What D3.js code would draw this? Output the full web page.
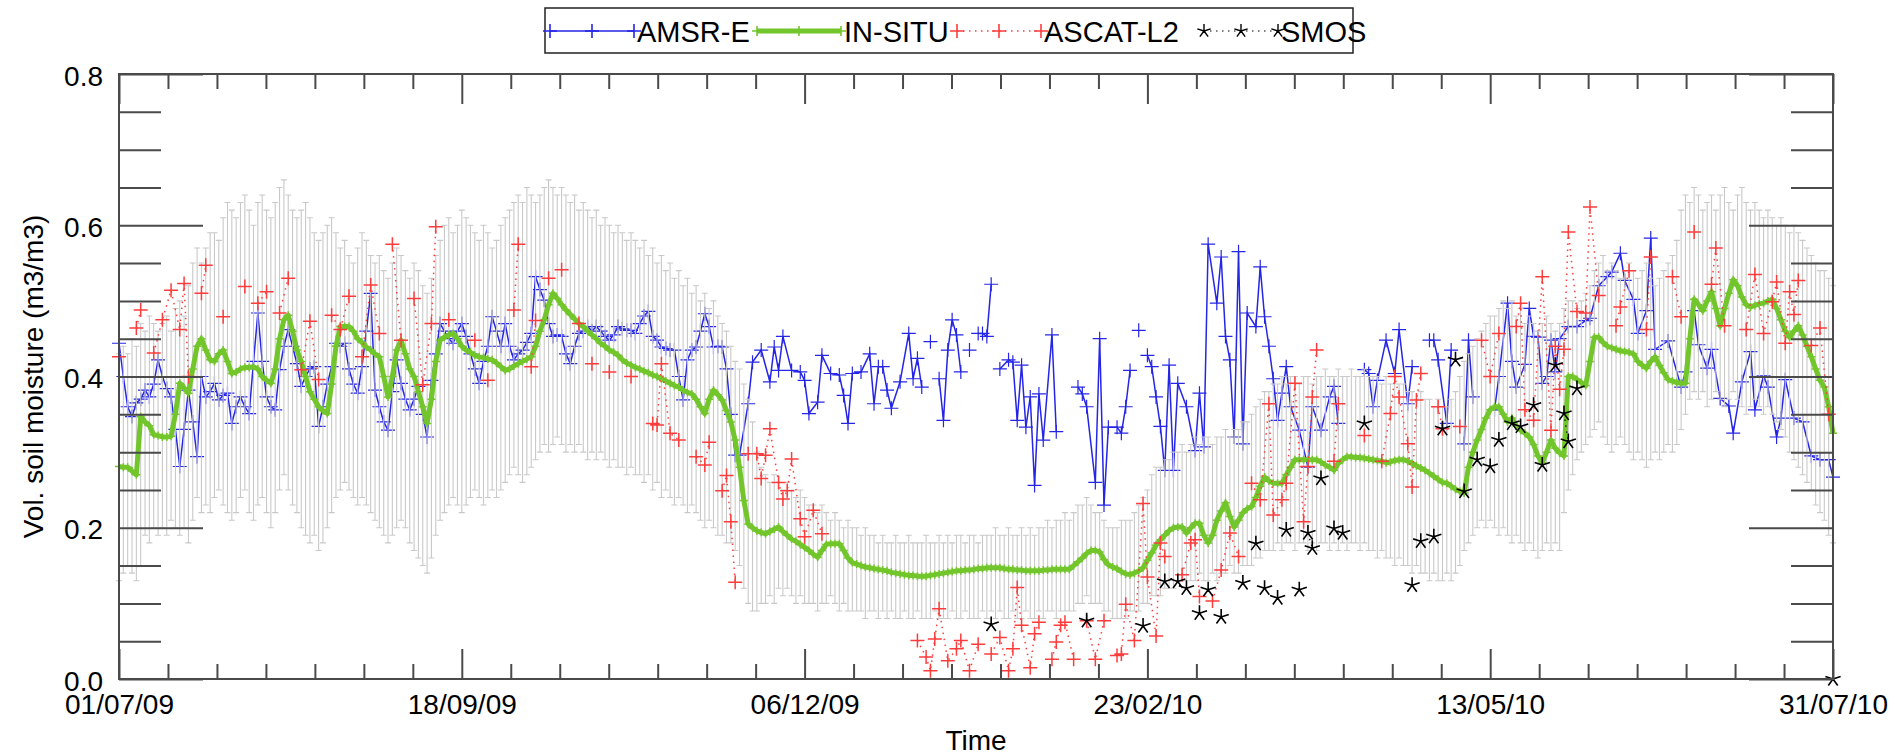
<!DOCTYPE html>
<html><head><meta charset="utf-8">
<script src="https://cdn.jsdelivr.net/npm/d3@7"></script>
<style>
body{margin:0;background:#fff}
svg{display:block}
text{font-family:"Liberation Sans",Arial,Helvetica,sans-serif;fill:#000}
</style>
</head><body>
<svg id="c" width="1895" height="755"></svg>
<script>
// ---------------- DATA ----------------
// day index 0 = 01/07/2009
const xTickDays   = [0, 79, 158, 237, 316, 395];
const xTickLabels = ["01/07/09","18/09/09","06/12/09","23/02/10","13/05/10","31/07/10"];
const yTickValues = [0, 0.2, 0.4, 0.6, 0.8];
const yTickLabels = ["0.0","0.2","0.4","0.6","0.8"];
const seriesNames = ["AMSR-E","IN-SITU","ASCAT-L2","SMOS"];
const xTitle = "Time";
const yTitle = "Vol. soil moisture (m3/m3)";

// in-situ daily mean (d0..d395)
const insitu = [
.281,.28,.28,.275,.27,.347,.34,.335,.323,.322,
.32,.32,.321,.35,.391,.385,.378,.41,.44,.45,
.435,.422,.42,.43,.435,.42,.404,.406,.41,.412,
.412,.413,.41,.40,.395,.391,.41,.45,.475,.481,
.46,.435,.42,.40,.38,.37,.36,.355,.351,.39,
.44,.466,.466,.466,.46,.45,.445,.439,.435,.43,
.426,.40,.373,.40,.435,.448,.43,.41,.40,.38,
.36,.338,.37,.42,.448,.452,.455,.457,.45,.44,
.435,.432,.428,.426,.425,.423,.422,.418,.413,.408,
.41,.414,.417,.42,.423,.426,.44,.46,.475,.495,
.51,.503,.495,.488,.482,.476,.47,.466,.46,.455,
.45,.444,.44,.435,.432,.428,.422,.418,.415,.412,
.41,.407,.405,.402,.40,.397,.394,.391,.388,.386,
.382,.379,.377,.37,.36,.351,.37,.382,.376,.369,
.355,.34,.316,.28,.236,.205,.20,.196,.194,.192,
.195,.198,.201,.195,.19,.185,.182,.178,.174,.17,
.165,.161,.17,.178,.179,.179,.179,.17,.16,.154,
.152,.15,.148,.147,.146,.145,.144,.143,.141,.14,
.139,.138,.137,.137,.136,.136,.136,.137,.138,.139,
.14,.141,.142,.143,.143,.144,.144,.145,.146,.146,
.147,.147,.147,.147,.146,.145,.145,.144,.144,.143,
.143,.143,.143,.144,.144,.145,.145,.145,.145,.145,
.15,.155,.16,.166,.17,.17,.168,.158,.151,.148,
.146,.142,.139,.138,.14,.143,.147,.157,.167,.177,
.184,.19,.196,.2,.201,.201,.193,.2,.206,.206,
.19,.18,.19,.21,.222,.233,.215,.201,.21,.22,
.225,.228,.24,.255,.267,.262,.259,.259,.259,.27,
.28,.29,.29,.29,.29,.29,.29,.287,.283,.28,
.276,.285,.29,.294,.294,.293,.293,.292,.291,.29,
.289,.288,.286,.287,.289,.29,.29,.288,.285,.282,
.279,.276,.272,.268,.264,.26,.259,.255,.251,.248,
.246,.28,.30,.316,.33,.345,.356,.36,.36,.35,
.34,.345,.335,.329,.325,.32,.31,.295,.286,.30,
.316,.305,.299,.295,.40,.40,.396,.392,.388,.42,
.452,.452,.445,.44,.438,.436,.434,.433,.432,.43,
.42,.415,.411,.42,.426,.415,.405,.396,.394,.392,
.391,.391,.45,.502,.495,.487,.50,.512,.49,.467,
.49,.51,.528,.52,.505,.495,.492,.494,.496,.497,
.50,.502,.49,.475,.46,.452,.46,.467,.455,.44,
.426,.41,.395,.386,.36,.325];

// in-situ spread: upper and lower ends of the grey error bars (d0..d395)
const barHigh = [
.43,.44,.43,.45,.44,.47,.46,.48,.47,.46,
.47,.48,.46,.49,.50,.48,.52,.55,.57,.55,
.57,.59,.59,.58,.61,.63,.62,.61,.63,.64,
.62,.60,.63,.64,.62,.61,.63,.65,.66,.64,
.62,.61,.62,.63,.61,.59,.58,.59,.60,.61,
.59,.57,.58,.56,.55,.57,.59,.58,.56,.55,
.56,.54,.53,.55,.57,.56,.54,.53,.55,.54,
.52,.51,.53,.56,.58,.60,.61,.59,.60,.62,
.61,.60,.59,.58,.60,.59,.57,.58,.60,.61,
.62,.63,.64,.63,.65,.64,.63,.64,.65,.66,
.65,.64,.65,.64,.63,.64,.62,.63,.62,.61,
.62,.60,.61,.60,.59,.60,.59,.58,.59,.58,
.57,.58,.56,.57,.55,.56,.54,.55,.53,.54,
.52,.53,.51,.52,.50,.51,.49,.50,.48,.47,
.46,.44,.42,.41,.39,.37,.34,.30,.28,.27,
.26,.27,.26,.25,.26,.25,.24,.25,.24,.23,
.23,.22,.23,.22,.21,.22,.21,.20,.21,.20,
.20,.19,.20,.19,.19,.18,.19,.18,.18,.19,
.18,.18,.19,.18,.18,.18,.19,.18,.18,.19,
.18,.19,.18,.19,.19,.18,.19,.19,.18,.19,
.19,.19,.20,.19,.19,.20,.19,.19,.20,.19,
.20,.19,.20,.20,.21,.20,.21,.21,.22,.21,
.22,.23,.23,.24,.23,.22,.22,.21,.20,.20,
.20,.21,.21,.21,.22,.23,.24,.25,.27,.28,
.28,.29,.29,.30,.30,.31,.30,.31,.32,.31,
.32,.32,.31,.32,.32,.33,.32,.33,.33,.34,
.34,.35,.36,.37,.38,.38,.39,.39,.40,.39,
.40,.40,.39,.40,.40,.39,.40,.40,.41,.40,
.40,.41,.40,.40,.41,.40,.40,.41,.40,.40,
.40,.39,.40,.39,.40,.39,.39,.38,.38,.37,
.38,.37,.37,.36,.37,.36,.36,.37,.38,.40,
.42,.43,.44,.45,.46,.47,.48,.48,.49,.50,
.49,.50,.48,.49,.47,.48,.47,.46,.47,.48,
.47,.46,.47,.49,.50,.50,.49,.50,.51,.52,
.54,.55,.56,.54,.55,.54,.53,.54,.55,.54,
.53,.54,.55,.53,.52,.53,.54,.55,.56,.58,
.62,.64,.63,.65,.64,.62,.63,.64,.62,.64,
.65,.63,.62,.64,.65,.63,.62,.63,.62,.61,
.62,.61,.60,.61,.60,.59,.60,.59,.58,.57,
.56,.55,.54,.54,.53,.52];
const barLow = [
.13,.14,.15,.14,.13,.15,.19,.18,.20,.19,
.20,.19,.21,.20,.19,.20,.18,.21,.24,.22,
.23,.22,.24,.25,.23,.22,.21,.22,.24,.25,
.22,.21,.23,.24,.22,.20,.22,.25,.27,.25,
.23,.22,.20,.19,.18,.19,.17,.18,.20,.22,
.24,.25,.26,.25,.24,.23,.24,.23,.22,.21,
.20,.19,.18,.19,.20,.21,.20,.18,.17,.16,
.15,.14,.16,.19,.21,.22,.23,.24,.23,.22,
.23,.24,.25,.24,.23,.24,.25,.24,.25,.26,
.27,.28,.27,.26,.27,.28,.29,.30,.31,.30,
.31,.32,.31,.30,.31,.30,.31,.30,.29,.30,
.29,.30,.29,.28,.29,.28,.28,.27,.28,.27,
.27,.26,.27,.25,.26,.24,.25,.24,.23,.24,
.23,.22,.23,.22,.21,.20,.21,.20,.19,.19,
.18,.18,.17,.15,.12,.10,.09,.09,.10,.10,
.11,.10,.12,.11,.12,.11,.10,.11,.10,.10,
.10,.09,.10,.10,.11,.10,.09,.10,.09,.09,
.09,.09,.08,.09,.09,.08,.09,.08,.09,.08,
.08,.09,.08,.08,.09,.08,.08,.08,.09,.08,
.08,.08,.09,.08,.08,.09,.08,.08,.08,.09,
.08,.09,.08,.09,.08,.08,.09,.08,.08,.09,
.08,.08,.09,.08,.09,.09,.08,.09,.09,.09,
.09,.10,.10,.11,.10,.10,.10,.09,.09,.08,
.08,.08,.08,.09,.09,.09,.10,.10,.11,.11,
.11,.12,.12,.12,.13,.13,.12,.13,.13,.14,
.13,.13,.14,.13,.14,.14,.15,.14,.14,.15,
.15,.15,.16,.16,.17,.17,.17,.18,.17,.18,
.18,.17,.18,.18,.17,.18,.17,.18,.18,.17,
.18,.17,.18,.17,.18,.18,.17,.18,.17,.17,
.16,.17,.16,.16,.15,.16,.15,.15,.14,.15,
.14,.14,.13,.14,.13,.13,.14,.13,.14,.15,
.17,.18,.19,.20,.21,.20,.21,.20,.19,.20,
.19,.18,.19,.18,.17,.18,.17,.16,.17,.18,
.17,.18,.17,.22,.25,.27,.29,.30,.31,.32,
.33,.34,.32,.31,.30,.31,.32,.31,.30,.29,
.30,.29,.28,.29,.30,.29,.30,.31,.30,.31,
.33,.35,.37,.38,.37,.38,.36,.37,.38,.37,
.36,.37,.38,.37,.36,.35,.36,.37,.36,.35,
.36,.35,.34,.33,.32,.30,.29,.28,.27,.26,
.25,.23,.22,.21,.19,.18];

// AMSR-E retrievals [day, value]; null = explicit gap
const amsre = [
[0,.444],[1,.40],[2,.36],[3,.347],[4,.365],[5,.37],[6,.382],[7,.373],[8,.39],[9,.422],
[10,.40],[11,.384],[12,.373],[13,.33],[14,.281],[15,.33],[16,.382],[17,.34],[18,.294],[19,.40],
[20,.373],[21,.38],[22,.391],[23,.369],[24,.375],[25,.378],[26,.338],[27,.36],[28,.373],[29,.36],
[30,.351],[31,.42],[32,.484],[33,.42],[34,.373],[35,.36],[36,.356],[37,.409],[38,.44],[39,.462],
[40,.44],[41,.417],[42,.387],[43,.40],[44,.41],[45,.413],[46,.334],[47,.36],[48,.39],[49,.413],
[50,.444],[51,.44],[52,.444],[53,.41],[54,.39],[55,.378],[56,.413],[57,.46],[58,.51],[59,.382],
[60,.36],[61,.34],[62,.329],[63,.38],[64,.422],[65,.391],[66,.37],[67,.356],[68,.37],[69,.387],
[70,.35],[71,.32],[72,.395],[73,.43],[74,.47],[75,.46],[76,.45],[77,.444],[78,.46],[79,.47],
[80,.453],[81,.43],[82,.41],[83,.391],[84,.42],[85,.44],[86,.479],[87,.46],[88,.44],[89,.47],
[90,.44],[91,.422],[92,.43],[93,.435],[94,.445],[95,.457],[96,.532],[97,.515],[98,.501],[99,.47],
[100,.453],[101,.455],[102,.453],[103,.43],[104,.417],[105,.44],[106,.457],[107,.46],[108,.466],[109,.46],
[110,.466],[111,.46],[112,.453],[113,.448],[114,.455],[115,.466],[116,.463],[117,.461],[118,.461],[119,.457],
[120,.47],[121,.48],[122,.486],[123,.453],[124,.448],[125,.439],[126,.437],[127,.435],[128,.435],[129,.40],
[130,.369],[131,.422],[132,.435],[133,.439],[134,.46],[135,.483],[136,.466],[137,.439],[138,.44],[139,.439],
[140,.41],[141,.35],[142,.296],[143,.296],
[145,.364],[146,.419],[148,.435],[150,.393],[151,.439],[152,.408],[153,.453],[155,.408],[157,.406],[158,.395],
[159,.351],[161,.366],[162,.428],[164,.404],[166,.402],[167,.375],[168,.338],[169,.404],[171,.406],[173,.43],
[174,.364],[175,.413],[176,.413],[177,.382],[178,.358],[180,.393],[182,.457],[183,.397],[184,.424],[185,.386],
[186,null],[187,.446],[188,null],[189,.397],[190,.342],[191,.435],[192,.475],[193,.455],[194,.406],[195,null],
[196,.435],[197,null],[198,.457],[199,.457],[200,.453],[201,.522],[202,null],[203,.41],[205,.422],[206,.419],
[207,.342],[208,.415],[209,.333],[210,.373],[211,.256],[212,.377],[213,.316],[215,.455],[216,.327],[217,null],
[221,.386],[222,.377],[223,.36],[225,.26],[226,.45],[227,.23],[228,.333],[230,.333],[231,.325],[232,.36],
[233,.408],[234,null],[235,.461],[236,null],[237,.428],[238,.413],[239,.373],[240,.334],[241,.276],[242,.415],
[243,.276],[244,.391],[246,.36],[248,.302],[249,.378],[250,.307],[251,.575],[253,.497],[254,.558],[255,.453],
[256,.422],[257,.32],[258,.565],[259,.311],[260,.484],[262,.466],[263,.545],[264,.479],[265,.44],[266,.397],
[267,.342],[268,.378],[269,.413],[270,.36],[272,.329],[274,.28],[275,.36],[277,.329],[279,.373],[280,.387],
[281,.338],[287,.409],[288,.404],[289,.36],[290,.395],[292,.448],[294,.404],[295,.462],[297,.364],[298,.413],
[300,null],[302,.448],[303,.448],[304,.422],[306,.338],[307,.435],[309,null],[310,.311],[311,.448],[312,.373],
[313,null],[317,.356],[318,.40],[320,.497],[321,.42],[322,.386],[324,.416],[325,.49],[326,.453],[327,.452],
[328,.391],[329,.40],[330,.448],[331,.406],[332,.45],[334,.466],[336,.466],[338,.474],[339,.477],[341,.52],
[343,.532],[344,.538],[346,.563],[347,.527],[349,.502],[350,.457],[352,.487],[353,.583],[354,.436],[357,.447],
[360,.386],[361,.406],[363,.487],[364,.442],[366,.411],[367,.436],[369,.371],[371,.361],[372,.325],[374,.393],
[376,.433],[377,.356],[379,.401],[380,.386],[382,.32],[383,.345],[384,.396],[386,.345],[388,.34],[390,.295],
[392,.29],[394,.29],[395,.267]];

// ASCAT-L2 retrievals [day, value]
const ascat = [
[0,.426],[4,.464],[5,.488],[8,.431],[10,.475],[12,.514],[14,.462],[15,.523],[16,.40],[19,.51],
[20,.547],[24,.479],[29,.519],[32,.497],[34,.512],[37,.484],[39,.53],[42,.409],[44,.473],[46,.396],
[49,.481],[51,.462],[53,.506],[56,.426],[58,.521],[60,.457],[63,.575],[65,.448],[68,.503],[70,.389],
[72,.47],[73,.598],[76,.475],[82,.448],[85,.395],[91,.488],[92,.575],[95,.413],[96,.474],[99,.53],
[102,.541],[106,.47],[109,.417],[113,.406],[118,.40],[123,.338],[124,.336],[125,.417],[127,.325],[129,.316],
[133,.294],[135,.283],[136,.313],[139,.249],[140,.269],[141,.208],[142,.128],[145,.298],[147,.298],[148,.265],
[149,.296],[150,.331],[152,.26],[153,.238],[154,.249],[155,.291],[157,.212],[158,.188],[160,.223],[162,.192],
[184,.051],[186,.029],[187,.011],[188,.053],[189,.093],[191,.024],[193,.04],[194,.051],[196,.011],[198,.046],
[201,.033],[203,.055],[205,.011],[206,.04],[207,.121],[208,.071],[210,.015],[211,.06],[212,.075],[215,.026],
[216,.049],[217,.071],[218,.075],[220,.026],[223,.077],[225,.026],[227,.077],[230,.031],[231,.033],[232,.099],
[234,.051],[236,.232],[237,.135],[239,.057],[240,.18],[241,.162],[245,.138],[247,.18],[248,.184],[249,.109],
[252,.103],[254,.144],[256,.193],[258,.162],[261,.259],[263,.237],[265,.364],[266,.217],[268,.237],[269,.259],
[271,.391],[273,.208],[274,.281],[275,.373],[276,.435],[280,.288],[281,.364],[287,.322],[291,.288],[293,.351],
[294,.40],[295,.373],[297,.311],[298,.254],[299,.369],[300,.404],[304,.36],[305,.331],[309,.334],[314,.448],
[316,.40],[318,.457],[322,.466],[323,.497],[324,.356],[326,.342],[328,.532],[330,.329],[331,.44],[332,.383],
[333,.436],[334,.591],[336,.486],[338,.484],[339,.624],[341,.507],[345,.467],[346,.492],[348,.54],[352,.462],
[353,.558],[358,.532],[360,.479],[363,.591],[367,.522],[368,.57],[370,.467],[375,.462],[377,.535],[379,.457],
[381,.499],[382,.525],[384,.444],[385,.512],[386,.482],[387,.527],[390,.441],[392,.464],[394,.35]];

// SMOS retrievals [day, value]
const smos = [
[201,.072],[223,.077],[236,.07],[241,.129],[244,.129],[246,.12],[249,.087],[251,.118],[254,.082],[259,.127],
[262,.179],[264,.12],[267,.107],[269,.197],[272,.118],[274,.193],[275,.173],[277,.265],[280,.199],[282,.193],
[287,.338],[298,.124],[300,.182],[303,.188],[305,.331],[308,.422],[310,.248],[313,.29],[316,.281],[318,.316],
[321,.338],[323,.334],[326,.362],[328,.283],[331,.415],[333,.351],[334,.314],[336,.384],[395,0]];

// ---------------- DRAWING ----------------
const svg = d3.select("#c");
const PL = 119, PR = 1833, PT = 74, PB = 679;
const x = d3.scaleLinear().domain([0, 395]).range([PL, PR]);
const y = d3.scaleLinear().domain([0, 0.8]).range([PB, PT]);
const AX = "#4a4a4a";
const FONT = 28;

const C = {amsre:"#2525e8", insitu:"#72c62c", ascat:"#ff3c3c", smos:"#000", bar:"#c9c9c9"};

function plusPath(cx, cy, s){ return `M${cx-s},${cy}H${cx+s}M${cx},${cy-s}V${cy+s}`; }
function starPath(cx, cy, s){
  const a = s*0.95, b = s*0.31, c = s*0.59, e = s*0.81;
  return `M${cx},${cy}V${cy-s}M${cx},${cy}L${cx+a},${cy-b}M${cx},${cy}L${cx+c},${cy+e}M${cx},${cy}L${cx-c},${cy+e}M${cx},${cy}L${cx-a},${cy-b}`;
}
function segments(data, maxGap){
  const out = []; let cur = []; let last = null;
  for (const d of data){
    if (d[1] == null){ if (cur.length) out.push(cur); cur = []; last = null; continue; }
    if (last != null && d[0] - last > maxGap){ out.push(cur); cur = []; }
    cur.push(d); last = d[0];
  }
  if (cur.length) out.push(cur);
  return out;
}
const line = d3.line().x(d => x(d[0])).y(d => y(d[1]));
const gData = svg.append("g");

// AMSR-E
gData.append("g").selectAll("path").data(segments(amsre, 3).filter(s=>s.length>1)).join("path")
  .attr("d", line).attr("fill","none").attr("stroke",C.amsre).attr("stroke-width",1.5);
gData.append("path").attr("d", amsre.filter(d=>d[1]!=null).map(d=>plusPath(x(d[0]),y(d[1]),7)).join(""))
  .attr("stroke",C.amsre).attr("stroke-width",1.2).attr("fill","none");

// grey error bars
const days = d3.range(Math.min(insitu.length, barLow.length, barHigh.length));
gData.append("path").attr("d", days.map(i=>{
  const xx = x(i), y0 = y(barLow[i]), y1 = y(barHigh[i]);
  return `M${xx},${y0}V${y1}M${xx-3},${y0}H${xx+3}M${xx-3},${y1}H${xx+3}`;
}).join("")).attr("stroke",C.bar).attr("stroke-width",1.1).attr("fill","none");

// IN-SITU
const insituPts = insitu.map((v,i)=>[i,v]);
gData.append("path").attr("d", line(insituPts)).attr("fill","none")
  .attr("stroke",C.insitu).attr("stroke-width",5).attr("stroke-linejoin","round");
gData.append("path").attr("d", insituPts.map(d=>plusPath(x(d[0]),y(d[1]),4)).join(""))
  .attr("stroke",C.insitu).attr("stroke-width",1.5).attr("fill","none");

// ASCAT
gData.append("g").selectAll("path").data(segments(ascat,2).filter(s=>s.length>1)).join("path")
  .attr("d", line).attr("fill","none").attr("stroke",C.ascat).attr("stroke-width",1.5)
  .attr("stroke-dasharray","1.5,4.5");
gData.append("path").attr("d", ascat.map(d=>plusPath(x(d[0]),y(d[1]),7)).join(""))
  .attr("stroke",C.ascat).attr("stroke-width",1.5).attr("fill","none");

// SMOS
gData.append("g").selectAll("path").data(segments(smos,1).filter(s=>s.length>1)).join("path")
  .attr("d", line).attr("fill","none").attr("stroke",C.smos).attr("stroke-width",1.2)
  .attr("stroke-dasharray","1.5,4.5");
gData.append("path").attr("d", smos.map(d=>starPath(x(d[0]),y(d[1]),8)).join(""))
  .attr("stroke",C.smos).attr("stroke-width",1.6).attr("fill","none");

// ---------------- AXES ----------------
const xMinor = d3.range(0, 36).filter(k => k % 7 !== 0).map(k => k * 79 / 7);
const yMinor = d3.range(0, 17).filter(k => k % 4 !== 0).map(k => k * 0.05);

function styleAxis(g){
  g.select(".domain").remove();
  g.selectAll(".tick line").attr("stroke", AX).attr("stroke-width", 2);
  g.attr("font-size", null).attr("font-family", null);
  g.selectAll("text").attr("font-size", FONT).attr("fill","#000");
}
svg.append("g").attr("transform",`translate(0,${PB})`)
  .call(d3.axisBottom(x).tickValues(xTickDays).tickSizeInner(-30).tickSizeOuter(0).tickPadding(15)
    .tickFormat((d,i)=>xTickLabels[i])).call(styleAxis);
svg.append("g").attr("transform",`translate(0,${PB})`)
  .call(d3.axisBottom(x).tickValues(xMinor).tickSize(-15).tickFormat("")).call(styleAxis);
svg.append("g").attr("transform",`translate(0,${PT})`)
  .call(d3.axisTop(x).tickValues(xTickDays).tickSize(-30).tickFormat("")).call(styleAxis);
svg.append("g").attr("transform",`translate(0,${PT})`)
  .call(d3.axisTop(x).tickValues(xMinor).tickSize(-15).tickFormat("")).call(styleAxis);
svg.append("g").attr("transform",`translate(${PL},0)`)
  .call(d3.axisLeft(y).tickValues(yTickValues).tickSizeInner(-84).tickSizeOuter(0).tickPadding(16)
    .tickFormat((d,i)=>yTickLabels[i])).call(styleAxis)
  .call(g=>g.selectAll("text").attr("dy","0.4em"));
svg.append("g").attr("transform",`translate(${PL},0)`)
  .call(d3.axisLeft(y).tickValues(yMinor).tickSize(-42).tickFormat("")).call(styleAxis);
svg.append("g").attr("transform",`translate(${PR},0)`)
  .call(d3.axisRight(y).tickValues(yTickValues).tickSize(-84).tickFormat("")).call(styleAxis);
svg.append("g").attr("transform",`translate(${PR},0)`)
  .call(d3.axisRight(y).tickValues(yMinor).tickSize(-42).tickFormat("")).call(styleAxis);
svg.append("rect").attr("x",PL).attr("y",PT).attr("width",PR-PL).attr("height",PB-PT)
  .attr("fill","none").attr("stroke",AX).attr("stroke-width",2);

// titles
svg.append("text").attr("x",(PL+PR)/2).attr("y",750).attr("text-anchor","middle")
  .attr("font-size",FONT).text(xTitle);
svg.append("text").attr("transform",`translate(43,${(PT+PB)/2}) rotate(-90)`)
  .attr("text-anchor","middle").attr("font-size",FONT).text(yTitle);

// ---------------- LEGEND ----------------
const leg = svg.append("g");
leg.append("rect").attr("x",545).attr("y",8).attr("width",808).attr("height",45).attr("fill","#fff")
  .attr("stroke","#222").attr("stroke-width",1.5);
const legStyles = [
  {color:C.amsre, width:1.6, dash:null, mark:"plus", ms:7, x0:550, len:84},
  {color:C.insitu, width:5, dash:null, mark:"plus", ms:5, x0:757, len:84},
  {color:C.ascat, width:1.5, dash:"1.5,4.5", mark:"plus", ms:7, x0:957, len:84},
  {color:C.smos, width:1.2, dash:"1.5,4.5", mark:"star", ms:7, x0:1204, len:74}
];
const ly = 31;
seriesNames.forEach((name, i) => {
  const st = legStyles[i], lx = st.x0, L = st.len;
  leg.append("line").attr("x1",lx).attr("x2",lx+L).attr("y1",ly).attr("y2",ly)
    .attr("stroke",st.color).attr("stroke-width",st.width).attr("stroke-dasharray",st.dash);
  const mp = [lx, lx+L/2, lx+L].map(px => st.mark==="plus" ? plusPath(px,ly,st.ms) : starPath(px,ly,st.ms)).join("");
  leg.append("path").attr("d",mp).attr("stroke",st.color).attr("stroke-width",st.mark==="plus"?1.6:1.4).attr("fill","none");
  leg.append("text").attr("x",lx+L+3).attr("y",42).attr("font-size",29).text(name);
});
</script>
</body></html>
